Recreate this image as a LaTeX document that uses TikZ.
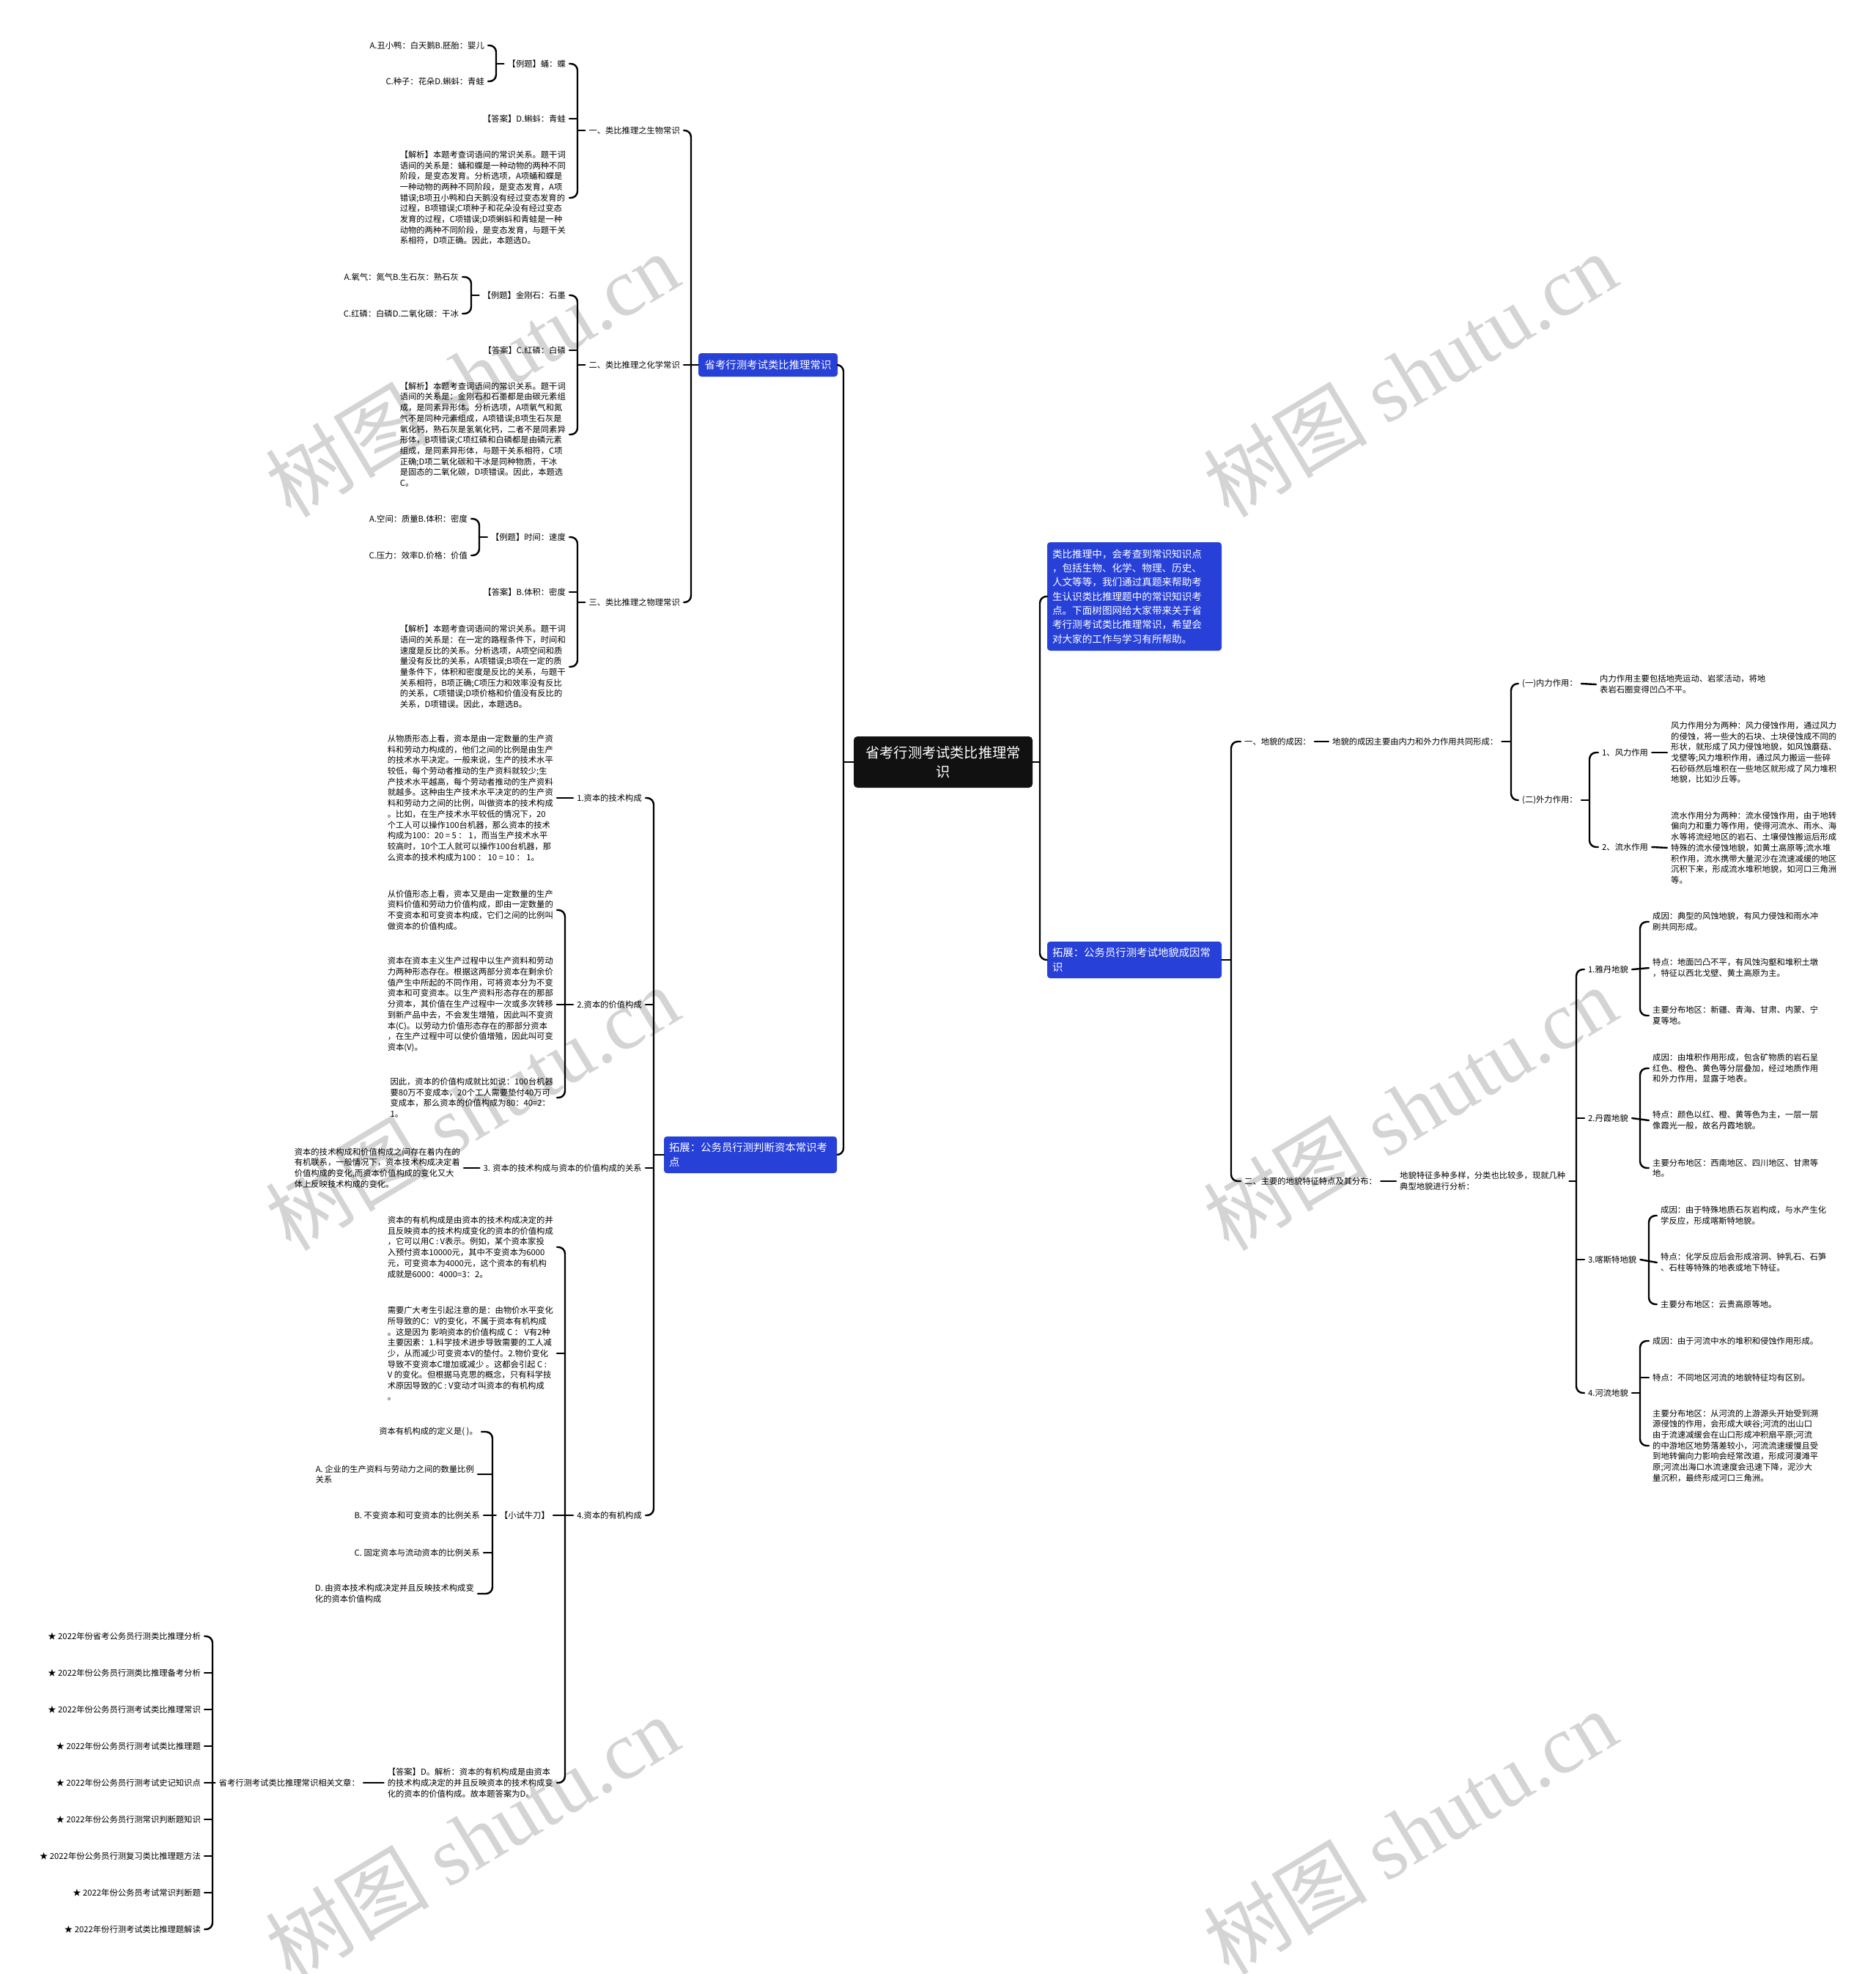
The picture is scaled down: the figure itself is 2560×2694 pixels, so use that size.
\documentclass[tikz,border=0pt]{standalone}
\usepackage{fontspec}
\setmainfont{Noto Sans CJK SC}
\newfontfamily\wmfont{Liberation Serif}
\newcommand{\fsm}{\fontsize{11.3pt}{14.7pt}\selectfont}
\newcommand{\fbx}{\fontsize{14.4pt}{20.5pt}\selectfont}
\newcommand{\frt}{\fontsize{19.2pt}{25.7pt}\selectfont}
\newcommand{\fin}{\fontsize{13.6pt}{19.3pt}\selectfont}
\newcommand{\fwm}{\fontsize{112pt}{120pt}\selectfont}
\definecolor{myblue}{HTML}{2741D8}
\definecolor{rootblack}{HTML}{111111}
\definecolor{wmgray}{HTML}{D4D4D4}
\tikzset{
  conn/.style={line width=2.4pt, rounded corners=9pt, line cap=round},
  L/.style={font=\fsm, inner xsep=5pt, inner ysep=1pt, anchor=east},
  LP/.style={L, align=left},
  R/.style={font=\fsm, inner xsep=5pt, inner ysep=1pt, anchor=west},
  RP/.style={R, align=left},
  bluebox/.style={fill=myblue, text=white, rounded corners=4pt, font=\fbx, align=left, inner xsep=7pt, inner ysep=3pt},
  rootbox/.style={fill=rootblack, text=white, rounded corners=5pt, font=\frt, align=center, minimum width=244pt, minimum height=70pt, inner sep=4pt},
  wm/.style={text=wmgray, font=\fwm, rotate=31, inner sep=0pt}
}
\begin{document}
\begin{tikzpicture}[x=1pt,y=-1pt]
\useasboundingbox (0,0) rectangle (2560,2694);
% watermarks
\node[wm] (w1) at (644,511) {树图 {\wmfont shutu.cn}};
\node[wm] (w2) at (1924,511) {树图 {\wmfont shutu.cn}};
\node[wm] (w3) at (644,1512) {树图 {\wmfont shutu.cn}};
\node[wm] (w4) at (1924,1512) {树图 {\wmfont shutu.cn}};
\node[wm] (w5) at (644,2508) {树图 {\wmfont shutu.cn}};
\node[wm] (w6) at (1924,2500) {树图 {\wmfont shutu.cn}};

% root and main boxes
\node[rootbox] (root) at (1287,1040) {省考行测考试类比推理常\\识};
\node[bluebox, minimum width=190pt, minimum height=32pt] (bA) at (1048,498) {省考行测考试类比推理常识};
\node[bluebox, text width=222pt, minimum height=50pt] (bB) at (1024,1576) {拓展：公务员行测判断资本常识考\\点};
\node[bluebox, font=\fin, text width=224pt, minimum height=148pt] (rI) at (1548,814) {类比推理中，会考查到常识知识点\\，包括生物、化学、物理、历史、\\人文等等，我们通过真题来帮助考\\生认识类比推理题中的常识知识考\\点。下面树图网给大家带来关于省\\考行测考试类比推理常识，希望会\\对大家的工作与学习有所帮助。};
\node[bluebox, text width=224pt, minimum height=50pt] (rB) at (1548,1310) {拓展：公务员行测考试地貌成因常\\识};

\coordinate (sL) at (1151,0);
\coordinate (sR) at (1419,0);
\draw[conn] (bA.east) -| (sL |- root.west) |- (bB.east);
\draw[conn] (root.west) -- (root.west -| sL);
\draw[conn] (rI.west) -| (sR |- root.east) |- (rB.west);
\draw[conn] (root.east) -- (root.east -| sR);

% ===== Branch A =====
\node[L] (a1) at (933,178) {一、类比推理之生物常识};
\node[L] (a2) at (933,498) {二、类比推理之化学常识};
\node[L] (a3) at (933,822) {三、类比推理之物理常识};
\coordinate (sA) at (943,0);
\draw[conn] (a1.east) -| (sA |- bA.west) |- (a3.east);
\draw[conn] (a2.east) -- (bA.west);

% section 1
\node[L] (a1e) at (777,87) {【例题】蛹：蝶};
\node[L] (a1d) at (777,162) {【答案】D.蝌蚪：青蛙};
\node[LP] (a1j) at (777,270) {【解析】本题考查词语间的常识关系。题干词\\语间的关系是：蛹和蝶是一种动物的两种不同\\阶段，是变态发育。分析选项，A项蛹和蝶是\\一种动物的两种不同阶段，是变态发育，A项\\错误;B项丑小鸭和白天鹅没有经过变态发育的\\过程，B项错误;C项种子和花朵没有经过变态\\发育的过程，C项错误;D项蝌蚪和青蛙是一种\\动物的两种不同阶段，是变态发育，与题干关\\系相符，D项正确。因此，本题选D。};
\coordinate (s1) at (788,0);
\draw[conn] (a1e.east) -| (s1 |- a1.west) |- (a1j.east);
\draw[conn] (a1d.east) -- (a1d.east -| s1);
\draw[conn] (a1.west) -- (a1.west -| s1);
\node[L] (a1eA) at (666,62) {A.丑小鸭：白天鹅B.胚胎：婴儿};
\node[L] (a1eC) at (666,111) {C.种子：花朵D.蝌蚪：青蛙};
\coordinate (s1e) at (677,0);
\draw[conn] (a1eA.east) -| (s1e |- a1e.west) |- (a1eC.east);
\draw[conn] (a1e.west) -- (a1e.west -| s1e);

% section 2
\node[L] (a2e) at (777,403) {【例题】金刚石：石墨};
\node[L] (a2d) at (777,478) {【答案】C.红磷：白磷};
\node[LP] (a2j) at (777,593) {【解析】本题考查词语间的常识关系。题干词\\语间的关系是：金刚石和石墨都是由碳元素组\\成，是同素异形体。分析选项，A项氧气和氮\\气不是同种元素组成，A项错误;B项生石灰是\\氧化钙，熟石灰是氢氧化钙，二者不是同素异\\形体，B项错误;C项红磷和白磷都是由磷元素\\组成，是同素异形体，与题干关系相符，C项\\正确;D项二氧化碳和干冰是同种物质，干冰\\是固态的二氧化碳，D项错误。因此，本题选\\C。};
\coordinate (s2) at (788,0);
\draw[conn] (a2e.east) -| (s2 |- a2.west) |- (a2j.east);
\draw[conn] (a2d.east) -- (a2d.east -| s2);
\draw[conn] (a2.west) -- (a2.west -| s2);
\node[L] (a2eA) at (631,378) {A.氧气：氮气B.生石灰：熟石灰};
\node[L] (a2eC) at (631,428) {C.红磷：白磷D.二氧化碳：干冰};
\coordinate (s2e) at (643,0);
\draw[conn] (a2eA.east) -| (s2e |- a2e.west) |- (a2eC.east);
\draw[conn] (a2e.west) -- (a2e.west -| s2e);

% section 3
\node[L] (a3e) at (777,733) {【例题】时间：速度};
\node[L] (a3d) at (777,808) {【答案】B.体积：密度};
\node[LP] (a3j) at (777,910) {【解析】本题考查词语间的常识关系。题干词\\语间的关系是：在一定的路程条件下，时间和\\速度是反比的关系。分析选项，A项空间和质\\量没有反比的关系，A项错误;B项在一定的质\\量条件下，体积和密度是反比的关系，与题干\\关系相符，B项正确;C项压力和效率没有反比\\的关系，C项错误;D项价格和价值没有反比的\\关系，D项错误。因此，本题选B。};
\coordinate (s3) at (788,0);
\draw[conn] (a3e.east) -| (s3 |- a3.west) |- (a3j.east);
\draw[conn] (a3d.east) -- (a3d.east -| s3);
\draw[conn] (a3.west) -- (a3.west -| s3);
\node[L] (a3eA) at (643,708) {A.空间：质量B.体积：密度};
\node[L] (a3eC) at (643,758) {C.压力：效率D.价格：价值};
\coordinate (s3e) at (654,0);
\draw[conn] (a3eA.east) -| (s3e |- a3e.west) |- (a3eC.east);
\draw[conn] (a3e.west) -- (a3e.west -| s3e);

% ===== Branch B =====
\node[L] (b1) at (881,1089) {1.资本的技术构成};
\node[L] (b2) at (881,1371) {2.资本的价值构成};
\node[L] (b3) at (881,1594) {3. 资本的技术构成与资本的价值构成的关系};
\node[L] (b4) at (881,2068) {4.资本的有机构成};
\coordinate (sB) at (892,0);
\draw[conn] (b1.east) -| (sB |- bB.west) |- (b4.east);
\draw[conn] (b2.east) -- (b2.east -| sB);
\draw[conn] (b3.east) -- (b3.east -| sB);
\draw[conn] (bB.west) -- (bB.west -| sB);

\node[LP] (b1p) at (760,1089) {从物质形态上看，资本是由一定数量的生产资\\料和劳动力构成的，他们之间的比例是由生产\\的技术水平决定。一般来说，生产的技术水平\\较低，每个劳动者推动的生产资料就较少;生\\产技术水平越高，每个劳动者推动的生产资料\\就越多。这种由生产技术水平决定的的生产资\\料和劳动力之间的比例，叫做资本的技术构成\\。比如，在生产技术水平较低的情况下，20\\个工人可以操作100台机器，那么资本的技术\\构成为100：20 = 5 ： 1，而当生产技术水平\\较高时，10个工人就可以操作100台机器，那\\么资本的技术构成为100 ： 10 = 10 ： 1。};
\draw[conn] (b1p.east) -- (b1.west);

\node[LP] (b2p1) at (760,1242) {从价值形态上看，资本又是由一定数量的生产\\资料价值和劳动力价值构成，即由一定数量的\\不变资本和可变资本构成，它们之间的比例叫\\做资本的价值构成。};
\node[LP] (b2p2) at (760,1371) {资本在资本主义生产过程中以生产资料和劳动\\力两种形态存在。根据这两部分资本在剩余价\\值产生中所起的不同作用，可将资本分为不变\\资本和可变资本。以生产资料形态存在的那部\\分资本，其价值在生产过程中一次或多次转移\\到新产品中去，不会发生增殖，因此叫不变资\\本(C)。以劳动力价值形态存在的那部分资本\\，在生产过程中可以使价值增殖，因此叫可变\\资本(V)。};
\node[LP] (b2p3) at (760,1498) {因此，资本的价值构成就比如说：100台机器\\要80万不变成本，20个工人需要垫付40万可\\变成本，那么资本的价值构成为80：40=2：\\1。};
\coordinate (sb2) at (771,0);
\draw[conn] (b2p1.east) -| (sb2 |- b2.west) |- (b2p3.east);
\draw[conn] (b2p2.east) -- (b2.west);

\node[LP] (b3p) at (633,1594) {资本的技术构成和价值构成之间存在着内在的\\有机联系，一般情况下，资本技术构成决定着\\价值构成的变化,而资本价值构成的变化又大\\体上反映技术构成的变化。};
\draw[conn] (b3p.east) -- (b3.west);

\node[LP] (b4p1) at (760,1702) {资本的有机构成是由资本的技术构成决定的并\\且反映资本的技术构成变化的资本的价值构成\\，它可以用C : V表示。例如，某个资本家投\\入预付资本10000元，其中不变资本为6000\\元，可变资本为4000元，这个资本的有机构\\成就是6000：4000=3：2。};
\node[LP] (b4p2) at (760,1847) {需要广大考生引起注意的是：由物价水平变化\\所导致的C：V的变化，不属于资本有机构成\\。这是因为 影响资本的价值构成 C ： V有2种\\主要因素：1.科学技术进步导致需要的工人减\\少，从而减少可变资本V的垫付。2.物价变化\\导致不变资本C增加或减少 。这都会引起 C :\\V 的变化。但根据马克思的概念，只有科学技\\术原因导致的C : V变动才叫资本的有机构成\\。};
\node[L] (b4q) at (755,2068) {【小试牛刀】};
\node[LP] (b4a) at (760,2433) {【答案】D。解析：资本的有机构成是由资本\\的技术构成决定的并且反映资本的技术构成变\\化的资本的价值构成。故本题答案为D。};
\coordinate (sb4) at (771,0);
\draw[conn] (b4p1.east) -| (sb4 |- b4.west) |- (b4a.east);
\draw[conn] (b4p2.east) -- (b4p2.east -| sb4);
\draw[conn] (b4q.east) -- (b4.west);

\node[L] (q0) at (657,1954) {资本有机构成的定义是( )。};
\node[LP] (qA) at (652,2012) {A. 企业的生产资料与劳动力之间的数量比例\\关系};
\node[L] (qB) at (660,2068) {B. 不变资本和可变资本的比例关系};
\node[L] (qC) at (660,2119) {C. 固定资本与流动资本的比例关系};
\node[LP] (qD) at (652,2175) {D. 由资本技术构成决定并且反映技术构成变\\化的资本价值构成};
\coordinate (sq) at (672,0);
\draw[conn] (q0.east) -| (sq |- b4q.west) |- (qD.east);
\draw[conn] (qA.east) -- (qA.east -| sq);
\draw[conn] (qC.east) -- (qC.east -| sq);
\draw[conn] (qB.east) -- (b4q.west);

\node[L] (rel) at (496,2433) {省考行测考试类比推理常识相关文章：};
\draw[conn] (rel.east) -- (b4a.west);
\node[L] (st1) at (279,2233) {★ 2022年份省考公务员行测类比推理分析};
\node[L] (st2) at (279,2283) {★ 2022年份公务员行测类比推理备考分析};
\node[L] (st3) at (279,2333) {★ 2022年份公务员行测考试类比推理常识};
\node[L] (st4) at (279,2383) {★ 2022年份公务员行测考试类比推理题};
\node[L] (st5) at (279,2433) {★ 2022年份公务员行测考试史记知识点};
\node[L] (st6) at (279,2483) {★ 2022年份公务员行测常识判断题知识};
\node[L] (st7) at (279,2533) {★ 2022年份公务员行测复习类比推理题方法};
\node[L] (st8) at (279,2583) {★ 2022年份公务员考试常识判断题};
\node[L] (st9) at (279,2633) {★ 2022年份行测考试类比推理题解读};
\coordinate (sS) at (290,0);
\draw[conn] (st1.east) -| (sS |- rel.west) |- (st9.east);
\foreach \n in {st2,st3,st4,st6,st7,st8} \draw[conn] (\n.east) -- (\n.east -| sS);
\draw[conn] (st5.east) -- (rel.west);

% ===== Right side =====
\node[R] (r1) at (1693,1012) {一、地貌的成因：};
\node[R] (r2) at (1693,1612) {二、主要的地貌特征特点及其分布：};
\coordinate (sr) at (1680,0);
\draw[conn] (r1.west) -| (sr |- rB.east) |- (r2.west);
\draw[conn] (rB.east) -- (rB.east -| sr);

\node[R] (r1p) at (1813,1012) {地貌的成因主要由内力和外力作用共同形成：};
\draw[conn] (r1.east) -- (r1p.west);
\node[R] (r11) at (2072,933) {(一)内力作用：};
\node[R] (r12) at (2072,1092) {(二)外力作用：};
\coordinate (sr1) at (2062,0);
\draw[conn] (r11.west) -| (sr1 |- r1p.east) |- (r12.west);
\draw[conn] (r1p.east) -- (r1p.east -| sr1);
\node[RP] (r11p) at (2178,934) {内力作用主要包括地壳运动、岩浆活动，将地\\表岩石圈变得凹凸不平。};
\draw[conn] (r11.east) -- (r11p.west);
\node[R] (r121) at (2181,1027) {1、风力作用};
\node[R] (r122) at (2181,1156) {2、流水作用};
\coordinate (sr12) at (2169,0);
\draw[conn] (r121.west) -| (sr12 |- r12.east) |- (r122.west);
\draw[conn] (r12.east) -- (r12.east -| sr12);
\node[RP] (r121p) at (2275,1027) {风力作用分为两种：风力侵蚀作用，通过风力\\的侵蚀，将一些大的石块、土块侵蚀成不同的\\形状，就形成了风力侵蚀地貌，如风蚀蘑菇、\\戈壁等;风力堆积作用，通过风力搬运一些碎\\石砂砾然后堆积在一些地区就形成了风力堆积\\地貌，比如沙丘等。};
\node[RP] (r122p) at (2275,1157) {流水作用分为两种：流水侵蚀作用，由于地转\\偏向力和重力等作用，使得河流水、雨水、海\\水等将流经地区的岩石、土壤侵蚀搬运后形成\\特殊的流水侵蚀地貌，如黄土高原等;流水堆\\积作用，流水携带大量泥沙在流速减缓的地区\\沉积下来，形成流水堆积地貌，如河口三角洲\\等。};
\draw[conn] (r121.east) -- (r121p.west);
\draw[conn] (r122.east) -- (r122p.west);

\node[RP] (r2p) at (1905,1612) {地貌特征多种多样，分类也比较多，现就几种\\典型地貌进行分析：};
\draw[conn] (r2.east) -- (r2p.west);
\node[R] (d1) at (2162,1323) {1.雅丹地貌};
\node[R] (d2) at (2162,1526) {2.丹霞地貌};
\node[R] (d3) at (2162,1719) {3.喀斯特地貌};
\node[R] (d4) at (2162,1901) {4.河流地貌};
\coordinate (sd) at (2151,0);
\draw[conn] (d1.west) -| (sd |- r2p.east) |- (d4.west);
\draw[conn] (d2.west) -- (d2.west -| sd);
\draw[conn] (d3.west) -- (d3.west -| sd);
\draw[conn] (r2p.east) -- (r2p.east -| sd);

\node[RP] (d1a) at (2250,1258) {成因：典型的风蚀地貌，有风力侵蚀和雨水冲\\刷共同形成。};
\node[RP] (d1b) at (2250,1321) {特点：地面凹凸不平，有风蚀沟壑和堆积土墩\\，特征以西北戈壁、黄土高原为主。};
\node[RP] (d1c) at (2250,1386) {主要分布地区：新疆、青海、甘肃、内蒙、宁\\夏等地。};
\coordinate (sd1) at (2238,0);
\draw[conn] (d1a.west) -| (sd1 |- d1.east) |- (d1c.west);
\draw[conn] (d1b.west) -- (d1.east);

\node[RP] (d2a) at (2250,1458) {成因：由堆积作用形成，包含矿物质的岩石呈\\红色、橙色、黄色等分层叠加，经过地质作用\\和外力作用，显露于地表。};
\node[RP] (d2b) at (2250,1529) {特点：颜色以红、橙、黄等色为主，一层一层\\像霞光一般，故名丹霞地貌。};
\node[RP] (d2c) at (2250,1594) {主要分布地区：西南地区、四川地区、甘肃等\\地。};
\draw[conn] (d2a.west) -| (sd1 |- d2.east) |- (d2c.west);
\draw[conn] (d2b.west) -- (d2.east);

\node[RP] (d3a) at (2261,1659) {成因：由于特殊地质石灰岩构成，与水产生化\\学反应，形成喀斯特地貌。};
\node[RP] (d3b) at (2261,1723) {特点：化学反应后会形成溶洞、钟乳石、石笋\\、石柱等特殊的地表或地下特征。};
\node[R] (d3c) at (2261,1780) {主要分布地区：云贵高原等地。};
\coordinate (sd3) at (2250,0);
\draw[conn] (d3a.west) -| (sd3 |- d3.east) |- (d3c.west);
\draw[conn] (d3b.west) -- (d3.east);

\node[R] (d4a) at (2250,1830) {成因：由于河流中水的堆积和侵蚀作用形成。};
\node[R] (d4b) at (2250,1880) {特点：不同地区河流的地貌特征均有区别。};
\node[RP] (d4c) at (2250,1973) {主要分布地区：从河流的上游源头开始受到溯\\源侵蚀的作用，会形成大峡谷;河流的出山口\\由于流速减缓会在山口形成冲积扇平原;河流\\的中游地区地势落差较小，河流流速缓慢且受\\到地转偏向力影响会经常改道，形成河漫滩平\\原;河流出海口水流速度会迅速下降，泥沙大\\量沉积，最终形成河口三角洲。};
\draw[conn] (d4a.west) -| (sd1 |- d4.east) |- (d4c.west);
\draw[conn] (d4b.west) -- (d4b.west -| sd1);
\draw[conn] (d4.east) -- (d4.east -| sd1);
\end{tikzpicture}
\end{document}
